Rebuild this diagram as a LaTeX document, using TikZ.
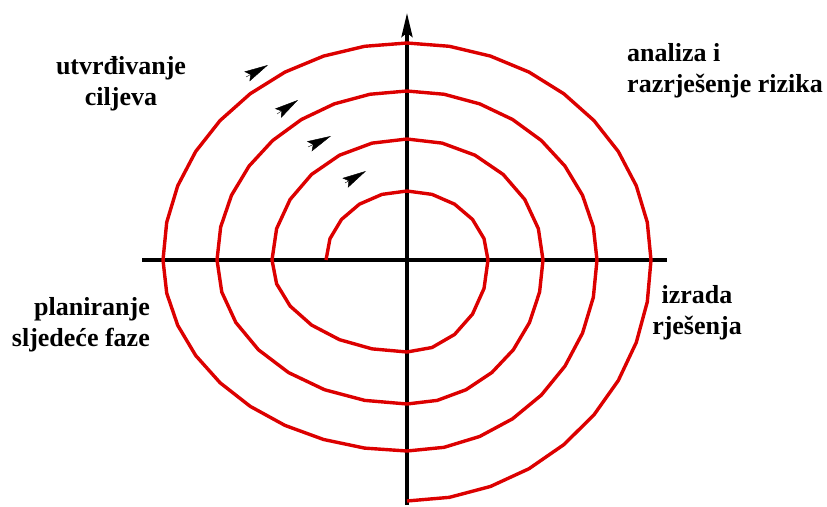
\documentclass[tikz,border=0pt]{standalone}
\usepackage{fontspec}
\setmainfont{Liberation Serif}
\usetikzlibrary{arrows.meta}
\definecolor{spiralred}{RGB}{220,0,0}

\begin{document}
\begin{tikzpicture}[x=1pt, y=-1pt,
        axis/.style={line width=3.5pt, draw=black},
        spiral/.style={line width=3.4pt, draw=spiralred, line join=round},
        tipmark/.style={line width=0.4pt, -{Stealth[length=24pt, width=11pt, inset=4pt]}},
        phase/.style={font=\bfseries\fontsize{26}{31}\selectfont, inner sep=0pt}]
    \useasboundingbox (0,0) rectangle (827,506);

    \coordinate (O) at (407,260);
    \coordinate (xl) at (142,260);
    \coordinate (xr) at (667,260);
    \coordinate (yb) at (407,505);
    \coordinate (yt) at (407,13);

    \draw[axis] (xl) -- (xr);
    \draw[axis, -{Stealth[length=24pt, width=11pt, inset=4pt]}] (yb) -- (yt);

    % spiral, one quarter at a time
    \draw[spiral, shift={(O)}] (-81,0)
        foreach \ta/\tb/\rx/\ry/\n in {180/90/81/69/6, 90/0/81/69/6, 0/-90/81/92/6, -90/-180/135/92/7,
                                    180/90/135/121/7, 90/0/136/121/7, 0/-90/136/144/8, -90/-180/190/144/8,
                                    180/90/190/169/9, 90/0/190/169/9, 0/-90/190/191/9, -90/-180/244/191/10,
                                    180/90/244/217/10, 90/0/244/217/10, 0/-90/244/241/10}
        { -- plot[domain=\ta:\tb, samples=\n] ({\rx*cos(\x)}, {-\ry*sin(\x)}) };

    \draw[tipmark] (246,77) -- (268,65);
    \draw[tipmark] (277,114) -- (298,100);
    \draw[tipmark] (308,147) -- (331,136);
    \draw[tipmark] (345,183) -- (366,171);

    \node[phase, align=center] (goals) at (121,84) {utvrđivanje\\ciljeva};
    \node[phase, align=left, anchor=west] (risk) at (627,71) {analiza i\\razrješenje rizika};
    \node[phase, align=center] (develop) at (697,313) {izrada\\rješenja};
    \node[phase, align=right, anchor=east] (plan) at (150,325) {planiranje\\sljedeće faze};
\end{tikzpicture}
\end{document}
